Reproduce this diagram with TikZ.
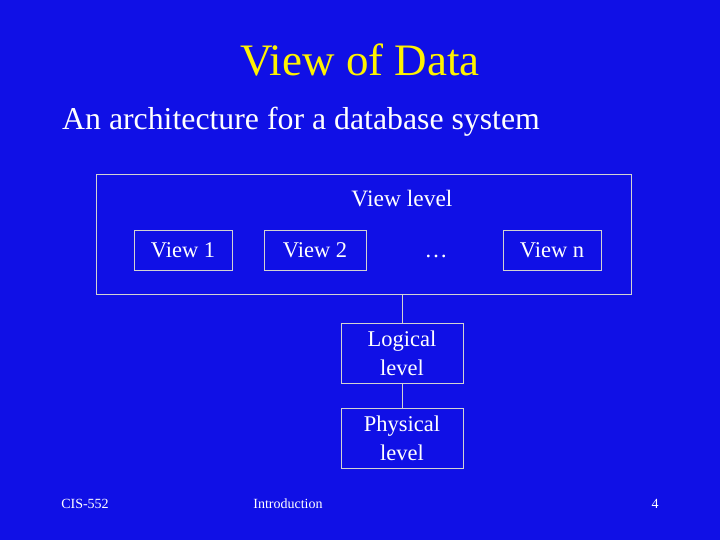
\documentclass[tikz,border=0pt]{standalone}
\usepackage{fontspec}
\setmainfont{Liberation Serif}
\definecolor{bg}{RGB}{16,16,230}
\definecolor{ln}{RGB}{210,210,210}
\begin{document}
\begin{tikzpicture}[x=1pt,y=-1pt,
  bx/.style={draw=ln,line width=0.8pt,text=white,font=\fontsize{22.5}{29}\selectfont,align=center,inner sep=0pt},
  tx/.style={text=white,inner sep=0pt}]
\fill[bg] (0,0) rectangle (720,540);
\useasboundingbox (0,0) rectangle (720,540);
\node[text=yellow,font=\fontsize{45}{50}\selectfont] (title) at (360,60) {View of Data};
\node[tx,font=\fontsize{31.8}{36}\selectfont,anchor=west] (sub) at (62,122) {An architecture for a database system};
\node[bx,minimum width=535,minimum height=120] (outer) at (363.5,234) {};
\node[tx,font=\fontsize{23.5}{26}\selectfont] (vl) at (402,199) {View level};
\node[bx,minimum width=98,minimum height=40] (v1) at (183,250) {View 1};
\node[bx,minimum width=102,minimum height=40] (v2) at (315,250) {View 2};
\node[tx,font=\fontsize{23}{26}\selectfont] (dots) at (436,256) {…};
\node[bx,minimum width=98,minimum height=40] (vn) at (552,250) {View n};
\node[bx,minimum width=122,minimum height=60] (log) at (402,353) {Logical\\level};
\node[bx,minimum width=122,minimum height=60] (phy) at (402,438) {Physical\\level};
\draw[ln,line width=0.8pt] (outer.south -| log.north) -- (log.north);
\draw[ln,line width=0.8pt] (log.south) -- (phy.north);
\node[tx,font=\fontsize{14}{16}\selectfont] (f1) at (85,504) {CIS-552};
\node[tx,font=\fontsize{14}{16}\selectfont] (f2) at (288,504) {Introduction};
\node[tx,font=\fontsize{14}{16}\selectfont] (f3) at (655,504) {4};
\end{tikzpicture}
\end{document}
